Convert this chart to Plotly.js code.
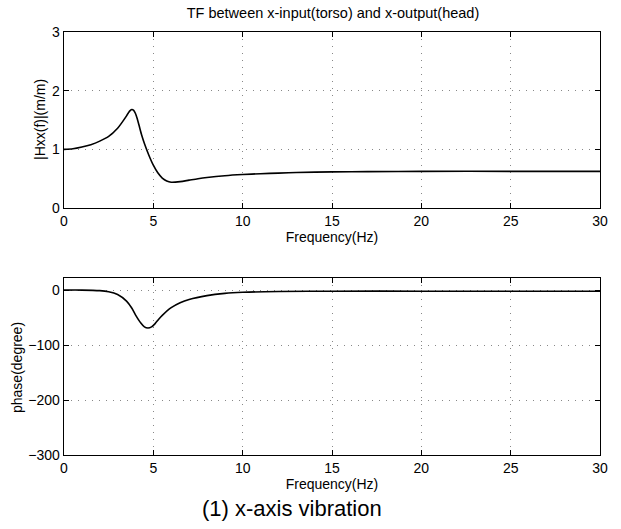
<!DOCTYPE html>
<html>
<head>
<meta charset="utf-8">
<script src="https://cdn.plot.ly/plotly-3.0.1.min.js"></script>
<style>html,body{margin:0;padding:0;background:#fff;}#chart{width:621px;height:529px;}</style>
</head>
<body>
<div id="chart"></div>
<script>
// Frequency (Hz)
const freqMag = [0, 0.5, 1, 1.5, 2, 2.5, 3, 3.25, 3.5, 3.6, 3.7, 3.8, 3.9, 4.0, 4.1, 4.2, 4.35, 4.5, 4.75, 5, 5.25, 5.5, 5.75, 6, 6.5, 7, 7.5, 8, 9, 10, 11, 12, 13, 15, 17, 20, 25, 30];
// |Hxx(f)| (m/m)
const magnitude = [1.0, 1.01, 1.04, 1.08, 1.14, 1.22, 1.36, 1.46, 1.57, 1.62, 1.66, 1.68, 1.665, 1.61, 1.52, 1.41, 1.24, 1.1, 0.9, 0.73, 0.6, 0.51, 0.46, 0.44, 0.45, 0.475, 0.5, 0.52, 0.55, 0.57, 0.585, 0.595, 0.605, 0.615, 0.62, 0.625, 0.625, 0.625];

const freqPhase = [0, 1, 2, 2.5, 3, 3.5, 3.8, 4.0, 4.3, 4.5, 4.7, 4.9, 5.1, 5.3, 5.5, 6, 6.5, 7, 8, 9, 10, 12, 15, 20, 25, 30];
// phase (degree)
const phase = [0, 0, -1, -3, -8, -20, -33, -45, -60, -67, -69, -67, -61, -53, -46, -32, -23, -17, -10, -6, -4, -2.5, -2, -2, -2, -2];

const xTicks = [0, 5, 10, 15, 20, 25, 30];
const magTicks = [0, 1, 2, 3];
const phaseTicks = [-300, -200, -100, 0];

const font = {family: 'Liberation Sans, Arial, sans-serif', color: '#000'};
const xDomain = [64/621, 600/621];
const gridStyle = {showgrid: true, gridcolor: '#888', griddash: '1px,6px', gridwidth: 1};

function xAxis(anchor) {
  return Object.assign({
    domain: xDomain, anchor: anchor, range: [0, 30], tickvals: xTicks,
    showline: true, mirror: 'ticks', linecolor: '#000', linewidth: 1.3,
    ticks: 'inside', ticklen: 5, tickcolor: '#000',
    zeroline: false, tickfont: Object.assign({size: 14}, font),
    title: {text: 'Frequency(Hz)', font: Object.assign({size: 14}, font), standoff: 1}
  }, gridStyle);
}
function yAxis(anchor, domain, range, ticks) {
  return Object.assign({
    domain: domain, anchor: anchor, range: range, tickvals: ticks,
    showline: true, mirror: 'ticks', linecolor: '#000', linewidth: 1.3,
    ticks: 'inside', ticklen: 5, tickcolor: '#000',
    zeroline: false, tickfont: Object.assign({size: 14}, font),
    title: {text: ''}
  }, gridStyle);
}

const traces = [
  {x: freqMag, y: magnitude, xaxis: 'x', yaxis: 'y', mode: 'lines',
   line: {color: '#000', width: 1.6, shape: 'spline', smoothing: 0.8}, hoverinfo: 'skip'},
  {x: freqPhase, y: phase, xaxis: 'x2', yaxis: 'y2', mode: 'lines',
   line: {color: '#000', width: 1.6, shape: 'spline', smoothing: 0.8}, hoverinfo: 'skip'}
];

const layout = {
  width: 621, height: 529,
  margin: {l: 0, r: 0, t: 0, b: 0},
  paper_bgcolor: '#fff', plot_bgcolor: '#fff',
  showlegend: false,
  title: {text: 'TF between x-input(torso) and x-output(head)', font: Object.assign({size: 14.5}, font),
          x: 333/621, xanchor: 'center', y: 1 - 13/529, yanchor: 'middle'},
  xaxis: xAxis('y'),
  yaxis: yAxis('x', [1 - 208/529, 1 - 32/529], [0, 3], magTicks),
  xaxis2: xAxis('y2'),
  yaxis2: yAxis('x2', [1 - 455/529, 1 - 278/529], [-300, 22], phaseTicks),
  annotations: [
    {text: '|Hxx(f)|(m/m)', xref: 'paper', yref: 'paper', x: 40/621, y: 1 - 120/529, textangle: -90,
     xanchor: 'center', yanchor: 'middle', showarrow: false, font: Object.assign({size: 14}, font)},
    {text: 'phase(degree)', xref: 'paper', yref: 'paper', x: 17/621, y: 1 - 368/529, textangle: -90,
     xanchor: 'center', yanchor: 'middle', showarrow: false, font: Object.assign({size: 14}, font)},
    {text: '(1) x-axis vibration', xref: 'paper', yref: 'paper', x: 292/621, y: 1 - 508/529,
     xanchor: 'center', yanchor: 'middle', showarrow: false, font: Object.assign({size: 22}, font)}
  ]
};

Plotly.newPlot('chart', traces, layout, {staticPlot: true, displayModeBar: false});
</script>
</body>
</html>
